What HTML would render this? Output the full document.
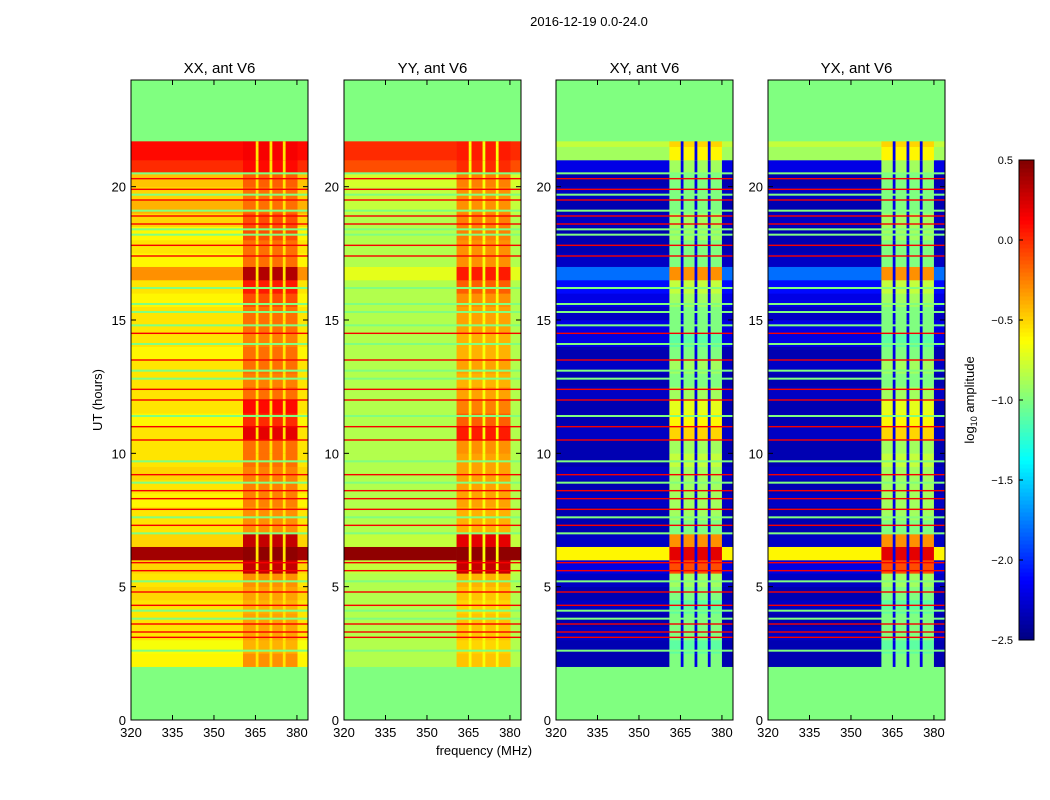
<!DOCTYPE html>
<html><head><meta charset="utf-8">
<style>
body{margin:0;background:#fff;}
svg{display:block;font-family:"Liberation Sans",sans-serif;}
</style></head>
<body>
<svg id="fig" width="1050" height="800" viewBox="0 0 1050 800" xmlns="http://www.w3.org/2000/svg">
<rect width="1050" height="800" fill="#fff"/>
<text x="589" y="26" font-size="13" text-anchor="middle">2016-12-19 0.0-24.0</text>
<text x="484" y="755" font-size="13" text-anchor="middle">frequency (MHz)</text>
<text transform="translate(102,400) rotate(-90)" font-size="13" text-anchor="middle">UT (hours)</text>
<text transform="translate(974,400) rotate(-90)" font-size="13" text-anchor="middle">log<tspan font-size="9" dy="3">10</tspan><tspan dy="-3"> amplitude</tspan></text>
<g id="panels"></g>
<g id="cbar"></g>
</svg>
<script>
// time rows (hours), 0.5h bins from 2.0 to 21.7
const rowEdges = [2,2.5,3,3.5,4,4.5,5,5.5,6,6.5,7,7.5,8,8.5,9,9.5,10,10.5,11,11.5,12,12.5,13,13.5,14,14.5,15,15.5,16,16.5,17,17.5,18,18.5,19,19.5,20,20.5,21,21.5,21.7];
const xxLeft  = [-0.6,-0.65,-0.55,-0.55,-0.55,-0.5,-0.55,-0.5,0.4,-0.5,-0.55,-0.55,-0.6,-0.55,-0.5,-0.55,-0.55,-0.55,-0.6,-0.55,-0.55,-0.55,-0.55,-0.6,-0.55,-0.55,-0.55,-0.6,-0.55,-0.3,-0.6,-0.55,-0.6,-0.5,-0.4,-0.5,-0.45,0.0,0.1,0.1];
const xxBlock = [-0.3,-0.4,-0.35,-0.35,-0.4,-0.35,-0.3,0.3,0.45,0.3,-0.3,-0.3,-0.25,-0.25,-0.25,-0.2,-0.2,0.2,0.0,0.1,-0.2,-0.25,-0.2,-0.2,-0.25,-0.2,-0.2,-0.1,0.05,0.35,-0.2,-0.2,-0.1,-0.1,-0.2,-0.2,-0.15,0.1,0.15,0.15];
const yyLeft  = [-0.85,-0.85,-0.85,-0.85,-0.85,-0.85,-0.85,-0.8,0.45,-0.8,-0.85,-0.85,-0.85,-0.85,-0.85,-0.85,-0.85,-0.85,-0.85,-0.85,-0.85,-0.85,-0.85,-0.85,-0.85,-0.85,-0.85,-0.85,-0.85,-0.7,-0.85,-0.85,-0.85,-0.85,-0.8,-0.8,-0.75,-0.1,0.0,0.0];
const yyBlock = [-0.45,-0.5,-0.45,-0.45,-0.5,-0.45,-0.4,0.3,0.45,0.2,-0.4,-0.4,-0.35,-0.35,-0.35,-0.35,-0.3,0.05,-0.15,-0.25,-0.35,-0.4,-0.35,-0.4,-0.4,-0.35,-0.35,-0.3,-0.15,0.05,-0.3,-0.3,-0.25,-0.25,-0.3,-0.3,-0.25,0.0,0.05,0.05];
const xyLeft  = [-2.35,-2.35,-2.3,-2.35,-2.3,-2.35,-2.3,-2.2,-0.6,-2.3,-2.35,-2.35,-2.3,-2.35,-2.3,-2.35,-2.35,-2.3,-2.35,-2.35,-2.3,-2.35,-2.3,-2.35,-2.2,-2.2,-2.3,-2.2,-2.1,-1.8,-2.3,-2.35,-2.35,-2.3,-2.35,-2.3,-2.35,-2.2,-0.9,-0.8];
const xyBlock = [-1.0,-1.1,-1.0,-1.0,-1.1,-1.0,-0.9,-0.1,0.2,-0.3,-1.0,-0.9,-0.9,-0.9,-0.9,-0.8,-0.9,-0.5,-0.6,-0.7,-0.9,-1.0,-0.9,-1.0,-1.1,-1.0,-1.0,-0.9,-0.8,-0.3,-1.0,-1.0,-0.9,-0.9,-1.0,-1.0,-1.0,-0.9,-0.6,-0.5];
const redLines = [3.1,3.3,3.6,4.3,4.8,5.6,5.9,7.3,7.9,8.3,8.6,9.2,10.5,11.0,12.0,12.4,13.5,14.5,17.4,17.8,18.6,18.9,19.5,19.9,20.3];
const greenLines = [2.6,3.8,4.1,5.2,7.0,7.6,8.9,9.7,11.4,12.8,13.1,14.1,14.8,15.3,15.6,16.2,18.2,18.4,19.1,19.7,20.5];
const gapFreqs = [365.6,370.6,375.4];
const xTicks = [320,335,350,365,380];
const yTicks = [0,5,10,15,20];
const cbTicks = [0.5,0.0,-0.5,-1.0,-1.5,-2.0,-2.5];
const cbLabels = ["0.5","0.0","\u22120.5","\u22121.0","\u22121.5","\u22122.0","\u22122.5"];

const panels = [
 {name:"xx",title:"XX, ant V6",x0:131,left:xxLeft,block:xxBlock,b0:360.5,b1:380.2,gap:-0.55},
 {name:"yy",title:"YY, ant V6",x0:344,left:yyLeft,block:yyBlock,b0:360.7,b1:380.2,gap:-0.65},
 {name:"xy",title:"XY, ant V6",x0:556,left:xyLeft,block:xyBlock,b0:361,b1:380,gap:-2.2},
 {name:"yx",title:"YX, ant V6",x0:768,left:xyLeft,block:xyBlock,b0:361,b1:380,gap:-2.2}
];
const W=177,H=640,Y0=80,VMIN=-2.5,VMAX=0.5;
const NS="http://www.w3.org/2000/svg";
function jet(v){let t=(v-VMIN)/(VMAX-VMIN);t=Math.max(0,Math.min(1,t));
 const c=x=>Math.round(255*Math.max(0,Math.min(1,1.5-Math.abs(4*t-x))));
 return `rgb(${c(3)},${c(2)},${c(1)})`;}
function mk(tag,attrs,parent){const e=document.createElementNS(NS,tag);for(const k in attrs)e.setAttribute(k,attrs[k]);parent.appendChild(e);return e;}
const root=document.getElementById('panels');
panels.forEach(p=>{
 const xs=f=>p.x0+(f-320)/64*W, ys=h=>Y0+H-h/24*H;
 const g=mk('g',{},root);
 
 
 const bg=mk('rect',{x:p.x0,y:Y0,width:W,height:H,fill:'#80ff80'},g);
 
 
 for(let i=0;i<rowEdges.length-1;i++){
  const y1=ys(rowEdges[i+1]),y2=ys(rowEdges[i]);
  const segs=[[320,p.b0,p.left[i]],[p.b0,p.b1,p.block[i]],[p.b1,384,p.left[i]]];
  segs.forEach(s=>{
   const r=mk('rect',{x:xs(s[0]),y:y1,width:xs(s[1])-xs(s[0])+0.3,height:y2-y1+0.3,fill:jet(s[2])},g);
   
   
  });
  gapFreqs.forEach(f=>{
   const r=mk('rect',{x:xs(f-0.5),y:y1,width:xs(f+0.5)-xs(f-0.5),height:y2-y1+0.3,fill:jet(p.gap)},g);
   
   
  });
 }
 greenLines.forEach(h=>{
  const r=mk('rect',{x:p.x0,y:ys(h)-1,width:W,height:2,fill:'#80ff80'},g);
  
  
 });
 redLines.forEach(h=>{
  const r=mk('rect',{x:p.x0,y:ys(h)-0.7,width:W,height:1.4,fill:jet(0.15)},g);
  
  
 });
 const fr=mk('rect',{x:p.x0,y:Y0,width:W,height:H,fill:'none',stroke:'#000','stroke-width':1},g);
 
 
 const t=mk('text',{x:p.x0+W/2,y:73,'font-size':15,'text-anchor':'middle'},g);t.textContent=p.title;
 
 
 xTicks.forEach(v=>{const x=xs(v);
  mk('line',{x1:x,x2:x,y1:Y0+H,y2:Y0+H-5,stroke:'#000'},g);
  mk('line',{x1:x,x2:x,y1:Y0,y2:Y0+5,stroke:'#000'},g);
  const l=mk('text',{x:x,y:Y0+H+17,'font-size':13,'text-anchor':'middle'},g);l.textContent=v;
  
  
 });
 yTicks.forEach(v=>{const y=ys(v);
  mk('line',{x1:p.x0,x2:p.x0+5,y1:y,y2:y,stroke:'#000'},g);
  mk('line',{x1:p.x0+W,x2:p.x0+W-5,y1:y,y2:y,stroke:'#000'},g);
  const l=mk('text',{x:p.x0-5,y:y+5,'font-size':13,'text-anchor':'end'},g);l.textContent=v;
  
  
 });
});
// colorbar
const cb=document.getElementById('cbar');
const CX=1019,CW=15,CY=160,CH=480;
const cys=v=>CY+(VMAX-v)/(VMAX-VMIN)*CH;
for(let i=0;i<120;i++){const v0=VMIN+i*(VMAX-VMIN)/120,v1=VMIN+(i+1)*(VMAX-VMIN)/120;
 const r=mk('rect',{x:CX,y:cys(v1),width:CW,height:cys(v0)-cys(v1)+0.5,fill:jet((v0+v1)/2)},cb);
 
 
}
const cf=mk('rect',{x:CX,y:CY,width:CW,height:CH,fill:'none',stroke:'#000'},cb);


cbTicks.forEach((v,i)=>{const y=cys(v);
 mk('line',{x1:CX,x2:CX+4,y1:y,y2:y,stroke:'#000'},cb);
 const l=mk('text',{x:CX-6,y:y+4,'font-size':11,'text-anchor':'end'},cb);l.textContent=cbLabels[i];
 
 
});
</script>
</body></html>
